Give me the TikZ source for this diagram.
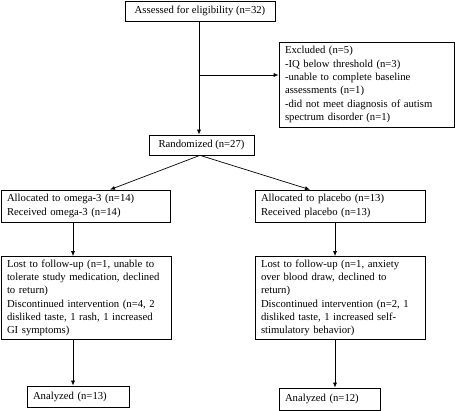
\documentclass[tikz,border=0pt]{standalone}
\usepackage{fontspec}
\setmainfont{Liberation Serif}
\usetikzlibrary{arrows.meta}
\tikzset{
	flowbox/.style={draw, line width=0.7pt, align=left, inner xsep=6pt, font=\fontsize{10.7pt}{13.3pt}\selectfont},
	flowarrow/.style={-{Latex[length=5pt,width=4pt]}, line width=0.7pt}
}
\begin{document}
\begin{tikzpicture}[x=1pt, y=1pt]
					\useasboundingbox (0,0) rectangle (455,-411);

					\node[flowbox, minimum width=150pt, minimum height=20pt] (assess) at (200,-11) {Assessed for eligibility (n=32)};
					\node[flowbox, minimum width=175pt, minimum height=85pt, text width=163pt] (excl) at (366.5,-84.5) {Excluded (n=5)\\-IQ below threshold (n=3)\\-unable to complete baseline\\assessments (n=1)\\-did not meet diagnosis of autism\\spectrum disorder (n=1)};
					\node[flowbox, minimum width=105pt, minimum height=20pt] (rand) at (201.5,-145) {Randomized (n=27)};
					\node[flowbox, minimum width=169pt, minimum height=32pt, text width=157pt] (allocO) at (85.5,-206) {Allocated to omega-3 (n=14)\\Received omega-3 (n=14)};
					\node[flowbox, minimum width=170pt, minimum height=32pt, text width=158pt] (allocP) at (340,-206) {Allocated to placebo (n=13)\\Received placebo (n=13)};
					\node[flowbox, minimum width=170pt, minimum height=82pt, text width=158pt] (lostO) at (86,-298) {Lost to follow-up (n=1, unable to\\tolerate study medication, declined\\to return)\\Discontinued intervention (n=4, 2\\disliked taste, 1 rash, 1 increased\\GI symptoms)};
					\node[flowbox, minimum width=170pt, minimum height=82pt, text width=158pt] (lostP) at (340,-298) {Lost to follow-up (n=1, anxiety\\over blood draw, declined to\\return)\\Discontinued intervention (n=2, 1\\disliked taste, 1 increased self-\\stimulatory behavior)};
					\node[flowbox, minimum width=102pt, minimum height=21pt, text width=90pt] (anaO) at (78,-396.5) {Analyzed (n=13)};
					\node[flowbox, minimum width=101pt, minimum height=22pt, text width=89pt] (anaP) at (329.5,-399) {Analyzed (n=12)};

					\coordinate (split) at (199,-75);

					\draw[flowarrow] ([xshift=-1pt]assess.south) -- ([xshift=-1pt]assess.south |- rand.north);
					\draw[flowarrow] (split) -- (split -| excl.west);
					\draw[flowarrow] ([xshift=-1.5pt]rand.south) -- ([xshift=24.5pt]allocO.north);
					\draw[flowarrow] ([xshift=-1.5pt]rand.south) -- ([xshift=-30pt]allocP.north);
					\draw[flowarrow] ([xshift=-12.5pt]allocO.south) -- ([xshift=-12.5pt]allocO.south |- lostO.north);
					\draw[flowarrow] ([xshift=-5pt]allocP.south) -- ([xshift=-5pt]allocP.south |- lostP.north);
					\draw[flowarrow] ([xshift=-13pt]lostO.south) -- ([xshift=-13pt]lostO.south |- anaO.north);
					\draw[flowarrow] ([xshift=-5pt]lostP.south) -- ([xshift=-5pt]lostP.south |- anaP.north);
				\end{tikzpicture}
\end{document}
